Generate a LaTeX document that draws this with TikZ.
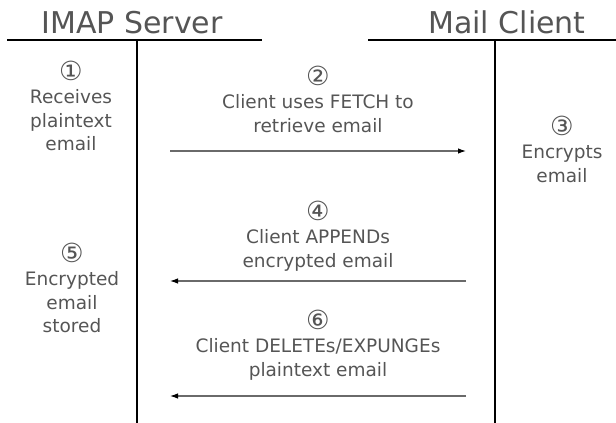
\documentclass[tikz,border=0pt]{standalone}
\usepackage{fontspec}
\usepackage{graphicx}
\setmainfont{DejaVu Sans}
\usetikzlibrary{arrows.meta}
\definecolor{txt}{HTML}{555555}
\definecolor{arr}{HTML}{6A6A6A}
\newcommand{\circnum}[1]{\raisebox{0pt}[0.72em][0.1em]{\scalebox{1.42}{#1}}}
\begin{document}
\begin{tikzpicture}[x=1pt,y=-1pt,
  head/.style={font=\fontsize{30}{34}\selectfont, text=txt, anchor=base, inner sep=0pt},
  lbl/.style={font=\fontsize{18.5}{23.5}\selectfont, text=txt, align=center, inner sep=0pt},
  rule/.style={line width=1.5pt, black},
  life/.style={line width=2pt, black},
  msg/.style={line width=1.1pt, arr, -{Latex[length=8pt,width=5.5pt,color=black]}}]
\useasboundingbox (0,0) rectangle (616,423);
% headers
\node[head] (hs) at (132,33) {IMAP Server};
\node[head] (hc) at (507,33) {Mail Client};
\coordinate (sl) at (7,40);
\coordinate (sr) at (262,40);
\coordinate (cl) at (368,40);
\coordinate (cr) at (616,40);
\draw[rule] (sl) -- (sr);
\draw[rule] (cl) -- (cr);
% lifelines
\coordinate (stop) at (137,40);
\coordinate (sbot) at (137,423);
\coordinate (ctop) at (495,40);
\coordinate (cbot) at (495,423);
\draw[life] (stop) -- (sbot);
\draw[life] (ctop) -- (cbot);
% labels
\node[lbl] (l1) at (71,109) {\circnum{①}\\Receives\\plaintext\\email};
\node[lbl] (l2) at (318,102) {\circnum{②}\\Client uses FETCH to\\retrieve email};
\node[lbl] (l3) at (562,152) {\circnum{③}\\Encrypts\\email};
\node[lbl] (l4) at (318,239) {\circnum{④}\\Client APPENDs\\encrypted email};
\node[lbl] (l5) at (72,291) {\circnum{⑤}\\Encrypted\\email\\stored};
\node[lbl] (l6) at (318,348) {\circnum{⑥}\\Client DELETEs/EXPUNGEs\\plaintext email};
% messages
\coordinate (a1s) at (170,151);
\coordinate (a1e) at (466,151);
\coordinate (a2s) at (466,281);
\coordinate (a2e) at (170,281);
\coordinate (a3s) at (466,396);
\coordinate (a3e) at (170,396);
\draw[msg] (a1s) -- (a1e);
\draw[msg] (a2s) -- (a2e);
\draw[msg] (a3s) -- (a3e);
\end{tikzpicture}
\end{document}
